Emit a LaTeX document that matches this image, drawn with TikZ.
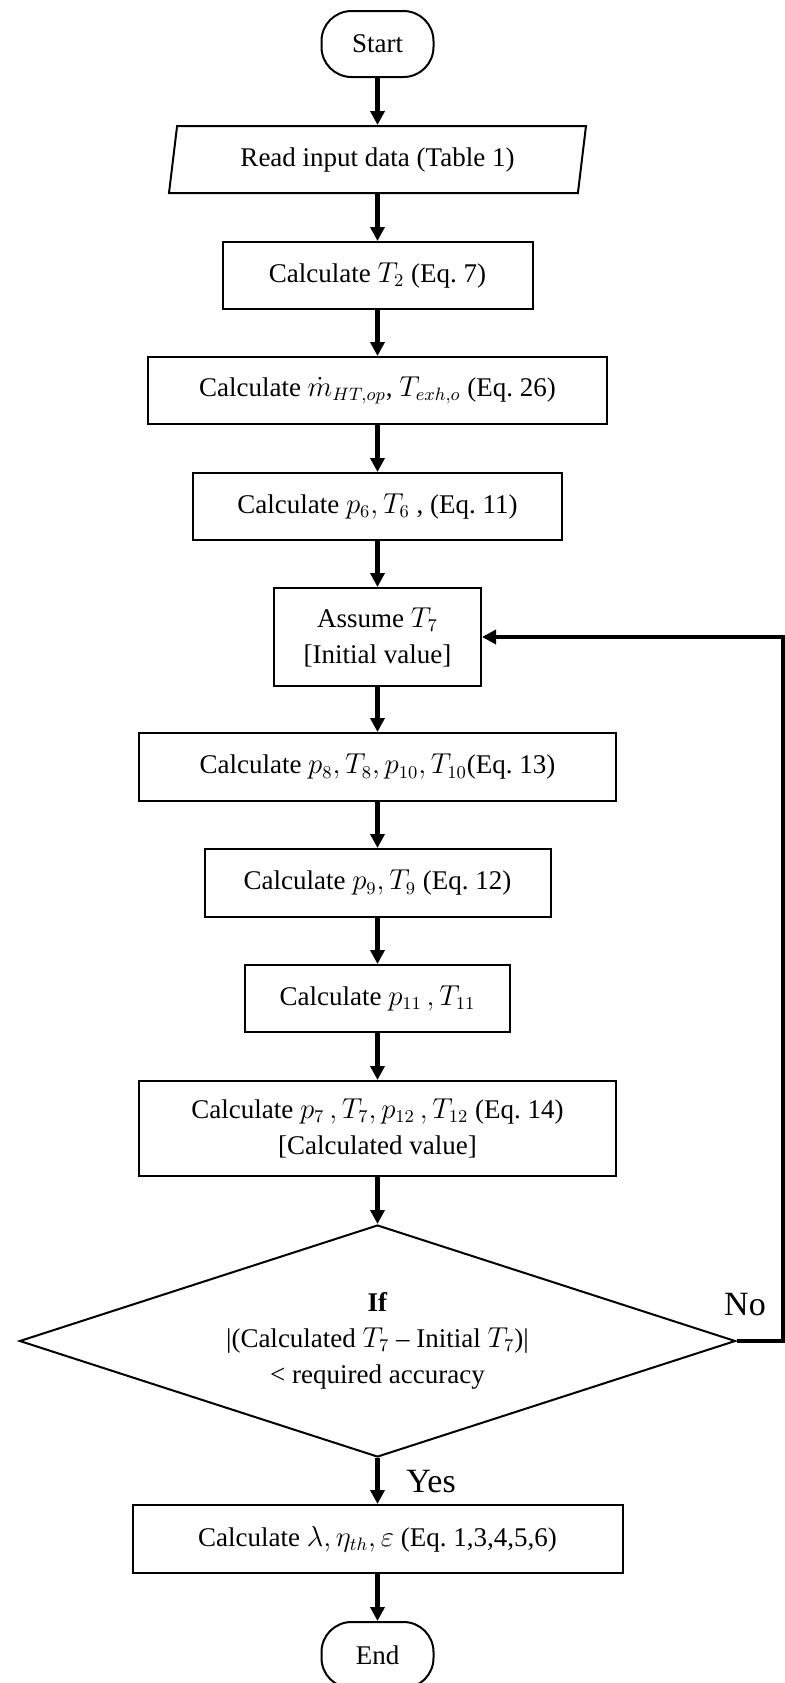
\documentclass[tikz,border=0pt]{standalone}
\usepackage{fontspec}
\setmainfont{Liberation Serif}
\usetikzlibrary{shapes.geometric,arrows.meta}
\begin{document}
\begin{tikzpicture}[x=0.5pt,y=-0.5pt,
  font=\fontsize{13.5}{18}\selectfont,
  box/.style={draw,line width=1pt,align=center,inner sep=2pt},
  term/.style={box,rounded corners=15pt,minimum width=56pt,minimum height=33pt},
  flow/.style={line width=2.4pt,-{Triangle[length=7pt,width=7pt]}},
  lbl/.style={font=\fontsize{17}{20}\selectfont}]
\useasboundingbox (0,0) rectangle (785,1683);

% 节点
\node[term] (start) at (377.5,44) {Start};
\node[box,trapezium,trapezium left angle=76,trapezium right angle=104,
  trapezium stretches body,minimum width=208.5pt,minimum height=33.5pt]
  (input) at (377.5,159.5) {Read input data (Table 1)};
\node[box,minimum width=155pt,minimum height=33.5pt] (tzwei) at (377.5,275.5)
  {Calculate $T_2$ (Eq.~7)};
\node[box,minimum width=229.5pt,minimum height=33.5pt] (mdot) at (377.5,390.5)
  {Calculate $\dot{m}_{HT,op}$, $T_{exh,o}$ (Eq.~26)};
\node[box,minimum width=184.5pt,minimum height=33.5pt] (psechs) at (377.5,506.5)
  {Calculate $p_6, T_6$ , (Eq.~11)};
\node[box,minimum width=103.5pt,minimum height=49pt] (assume) at (377.5,637)
  {Assume $T_7$\\{}[Initial value]};
\node[box,minimum width=238.5pt,minimum height=34pt] (pacht) at (377.5,767)
  {Calculate $p_8, T_8, p_{10}, T_{10}$(Eq.~13)};
\node[box,minimum width=173pt,minimum height=34pt] (pneun) at (377.5,883)
  {Calculate $p_9, T_9$ (Eq.~12)};
\node[box,minimum width=132.5pt,minimum height=33.5pt] (pelf) at (377.5,998.5)
  {Calculate $p_{11}\,, T_{11}$};
\node[box,minimum width=238.5pt,minimum height=47.5pt] (psieben) at (377.5,1128.5)
  {Calculate $p_7\,, T_7, p_{12}\,, T_{12}$ (Eq.~14)\\{}[Calculated value]};
\node[box,diamond,aspect=3.09,inner sep=0pt,minimum width=358pt,minimum height=116pt]
  (check) at (377.5,1341)
  {\textbf{If}\\|(Calculated $T_7$ -- Initial $T_7$)|\\< required accuracy};
\node[box,minimum width=245pt,minimum height=34pt] (lam) at (377.5,1539)
  {Calculate $\lambda, \eta_{th}, \varepsilon$ (Eq.~1,3,4,5,6)};
\node[term] (end) at (377.5,1655) {End};

% 标签
\node[lbl] (yes) at (431,1482) {Yes};
\node[lbl] (no) at (745,1305) {No};

% 箭头
\draw[flow] (start) -- (input);
\draw[flow] (input) -- (tzwei);
\draw[flow] (tzwei) -- (mdot);
\draw[flow] (mdot) -- (psechs);
\draw[flow] (psechs) -- (assume);
\draw[flow] (assume) -- (pacht);
\draw[flow] (pacht) -- (pneun);
\draw[flow] (pneun) -- (pelf);
\draw[flow] (pelf) -- (psieben);
\draw[flow] (psieben) -- (check);
\draw[flow] (check) -- (lam);
\draw[flow] (lam) -- (end);

% 回路
\coordinate (loopc) at (783,1341);
\draw[flow] (check.east) -- (loopc) |- (assume.east);
\end{tikzpicture}
\end{document}
